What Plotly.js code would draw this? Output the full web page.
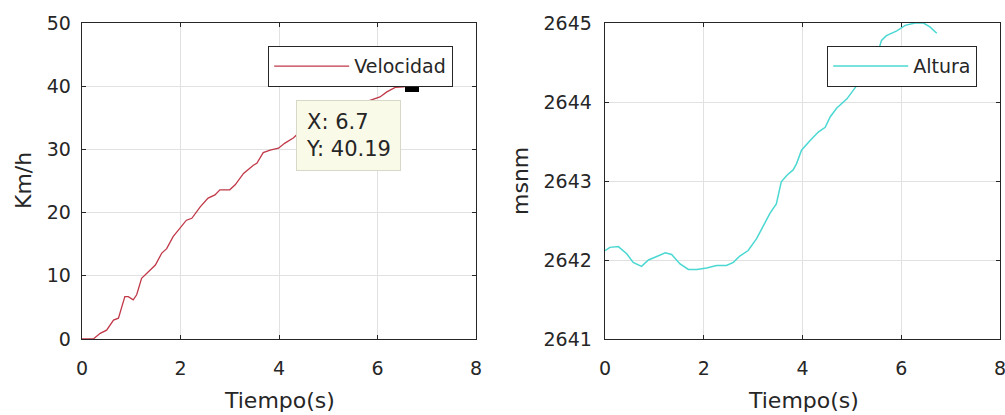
<!DOCTYPE html>
<html>
<head>
<meta charset="utf-8">
<script src="https://cdn.plot.ly/plotly-3.0.1.min.js"></script>
<style>html,body{margin:0;padding:0;background:#fff;}#chart{width:1005px;height:415px;}</style>
</head>
<body>
<div id="chart"></div>
<script>
// Velocidad (Km/h) vs Tiempo(s)
const velTime = [0,0.23,0.37,0.5,0.64,0.74,0.87,0.94,1.04,1.11,1.21,1.35,1.49,1.62,1.72,1.85,2.02,2.12,2.23,2.40,2.56,2.70,2.80,3.0,3.11,3.28,3.48,3.55,3.68,3.82,3.99,4.12,4.29,4.36,4.6,5.0,5.5,6.05,6.19,6.36,6.53,6.7];
const velValues = [0,0,0.9,1.4,3.0,3.3,6.7,6.7,6.2,7.0,9.6,10.7,11.7,13.6,14.3,16.2,17.8,18.8,19.1,20.9,22.3,22.8,23.6,23.6,24.4,26.2,27.5,27.8,29.5,29.9,30.2,31.0,31.8,32.3,33.5,35.0,36.8,38.3,39.1,39.8,39.9,40.19];
// Altura (msnm) vs Tiempo(s)
const altTime = [0,0.1,0.27,0.44,0.57,0.74,0.88,1.05,1.22,1.35,1.52,1.69,1.86,2.06,2.26,2.46,2.6,2.73,2.9,3.07,3.2,3.34,3.47,3.57,3.68,3.81,3.88,3.98,4.15,4.32,4.46,4.56,4.69,4.9,5.03,5.17,5.3,5.5,5.6,5.7,5.91,6.08,6.28,6.45,6.58,6.72];
const altValues = [2642.12,2642.16,2642.17,2642.08,2641.97,2641.92,2642.0,2642.04,2642.09,2642.07,2641.95,2641.88,2641.88,2641.90,2641.93,2641.93,2641.97,2642.05,2642.12,2642.27,2642.42,2642.59,2642.71,2642.99,2643.07,2643.14,2643.22,2643.39,2643.51,2643.62,2643.68,2643.81,2643.92,2644.04,2644.15,2644.27,2644.44,2644.57,2644.78,2644.84,2644.90,2644.97,2645.0,2645.0,2644.95,2644.87];
// Datatip
const tipX = [6.7];
const tipY = [40.19];
const xTicks = [0,2,4,6,8];
const velTicks = [0,10,20,30,40,50];
const altTicks = [2641,2642,2643,2644,2645];

const W = 1005, H = 415;
const tickFont = {family: 'DejaVu Sans, sans-serif', size: 19, color: '#262626'};
const titleFont = {family: 'DejaVu Sans, sans-serif', size: 22, color: '#262626'};

function axisBase(extra) {
  return Object.assign({
    showline: true, linecolor: '#262626', linewidth: 1.3, mirror: 'ticks',
    ticks: 'inside', ticklen: 4, tickcolor: '#262626', tickwidth: 1,
    showgrid: true, gridcolor: '#e1e1e1', gridwidth: 1,
    zeroline: false, tickfont: tickFont, fixedrange: true, ticklabeloverflow: 'allow'
  }, extra);
}

const traces = [
  {x: velTime, y: velValues, type: 'scatter', mode: 'lines', name: 'Velocidad',
   line: {color: '#c03848', width: 1.3}, xaxis: 'x', yaxis: 'y', legend: 'legend'},
  {x: tipX, y: tipY, type: 'scatter', mode: 'markers', showlegend: false,
   marker: {symbol: 'square', size: 14, color: '#000000'}, xaxis: 'x', yaxis: 'y'},
  {x: altTime, y: altValues, type: 'scatter', mode: 'lines', name: 'Altura',
   line: {color: '#4bd8d2', width: 1.5}, xaxis: 'x2', yaxis: 'y2', legend: 'legend2'}
];

const legendStyle = {
  bgcolor: '#ffffff', bordercolor: '#262626', borderwidth: 1.2,
  font: {family: 'DejaVu Sans, sans-serif', size: 19, color: '#262626'},
  yanchor: 'top', xanchor: 'right', y: (H - 46) / H, tracegroupgap: 0, itemwidth: 75
};

const layout = {
  width: W, height: H,
  margin: {l: 0, r: 0, t: 0, b: 0},
  paper_bgcolor: '#ffffff', plot_bgcolor: '#ffffff',
  showlegend: true,
  xaxis: axisBase({domain: [82 / W, 476 / W], range: [0, 8], tickvals: xTicks, anchor: 'y', ticklabelstandoff: 12}),
  yaxis: axisBase({domain: [(H - 339) / H, (H - 23) / H], range: [0, 50], tickvals: velTicks, anchor: 'x', ticklabelstandoff: 6}),
  xaxis2: axisBase({domain: [605 / W, 1000 / W], range: [0, 8], tickvals: xTicks, anchor: 'y2', ticklabelstandoff: 12}),
  yaxis2: axisBase({domain: [(H - 339) / H, (H - 23) / H], range: [2641, 2645], tickvals: altTicks, anchor: 'x2', ticklabelstandoff: 8}),
  legend: Object.assign({}, legendStyle, {x: 453 / W}),
  legend2: Object.assign({}, legendStyle, {x: 977 / W}),
  annotations: [
    {xref: 'x', yref: 'y', x: tipX[0], y: tipY[0], text: 'X: 6.7<br>Y: 40.19',
     showarrow: true, arrowcolor: 'rgba(0,0,0,0)', arrowwidth: 0.1, ax: -63, ay: 50,
     align: 'left', bgcolor: '#fafae8', bordercolor: '#d8d8c8', borderwidth: 1, borderpad: 9,
     font: {family: 'DejaVu Sans, sans-serif', size: 21, color: '#262626'}},
    {xref: 'paper', yref: 'paper', x: 279 / W, y: (H - 400) / H, text: 'Tiempo(s)', showarrow: false,
     font: titleFont, xanchor: 'center', yanchor: 'middle'},
    {xref: 'paper', yref: 'paper', x: 803 / W, y: (H - 400) / H, text: 'Tiempo(s)', showarrow: false,
     font: titleFont, xanchor: 'center', yanchor: 'middle'},
    {xref: 'paper', yref: 'paper', x: 23 / W, y: (H - 181) / H, text: 'Km/h', showarrow: false,
     textangle: -90, font: titleFont, xanchor: 'center', yanchor: 'middle'},
    {xref: 'paper', yref: 'paper', x: 520 / W, y: (H - 181) / H, text: 'msnm', showarrow: false,
     textangle: -90, font: titleFont, xanchor: 'center', yanchor: 'middle'}
  ]
};

Plotly.newPlot('chart', traces, layout, {staticPlot: true, displayModeBar: false});
</script>
</body>
</html>
